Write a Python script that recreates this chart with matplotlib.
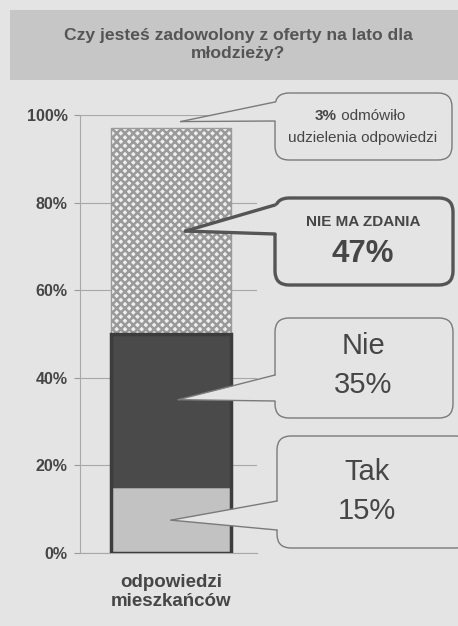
import matplotlib
matplotlib.use("Agg")
import matplotlib.pyplot as plt
from matplotlib.patches import FancyBboxPatch, Polygon, Rectangle
import numpy as np

# ---- data ----
title = "Czy jesteś zadowolony z oferty na lato dla\nmłodzieży?"
category = "odpowiedzi\nmieszkańców"
segments = ["Tak", "Nie", "Nie ma zdania"]
values = [15, 35, 47]
refused = 3
yticks = [0, 20, 40, 60, 80, 100]
ytick_labels = ["0%", "20%", "40%", "60%", "80%", "100%"]

plt.rcParams['font.family'] = ['Liberation Sans', 'DejaVu Sans']
plt.rcParams['hatch.linewidth'] = 1.8

BG = "#e4e4e4"
TXT = "#464646"
fig = plt.figure(figsize=(4.58, 6.26), dpi=100, facecolor=BG)

W, H = 458, 626
def fr(x0, y0, x1, y1):
    return [x0 / W, 1 - y1 / H, (x1 - x0) / W, (y1 - y0) / H]

ax = fig.add_axes(fr(80, 115, 257, 553))
ax.set_facecolor(BG)
ax.set_xlim(-0.758, 0.717)
ax.set_ylim(0, 100)

colors = ["#c2c2c2", "#4a4a4a", "#efefef"]
hatches = [None, None, "xxxx"]
edges = ["#8a8a8a", "#4a4a4a", "#9a9a9a"]
bottom = 0
for v, c, h, e in zip(values, colors, hatches, edges):
    ax.bar(0, v, width=1.0, bottom=bottom, color=c, hatch=h, edgecolor=e,
           linewidth=1.0, zorder=3)
    bottom += v
# dark outline for lower part of bar
ax.add_patch(Rectangle((-0.5, 0), 1.0, values[0] + values[1], fill=False,
                       edgecolor="#3c3c3c", linewidth=2.5, zorder=4))

ax.set_yticks(yticks)
ax.set_yticklabels(ytick_labels, fontsize=11.5, fontweight="bold", color=TXT)
ax.set_xticks([0])
ax.set_xticklabels([category], fontsize=13.5, fontweight="bold", color=TXT,
                   linespacing=1.15)
ax.tick_params(axis="x", length=0, pad=15)
ax.tick_params(axis="y", length=4, width=0.8, color="#9a9a9a", pad=5)
ax.grid(axis="y", color="#a8a8a8", linewidth=0.8, zorder=0)
for s in ["top", "right"]:
    ax.spines[s].set_visible(False)
ax.spines["left"].set_color("#a8a8a8")
ax.spines["bottom"].set_color("#a8a8a8")
ax.spines["left"].set_linewidth(0.8)
ax.spines["bottom"].set_linewidth(0.8)

# ---- overlay in pixel coordinates ----
ov = fig.add_axes([0, 0, 1, 1], zorder=5)
ov.set_xlim(0, W)
ov.set_ylim(H, 0)
ov.axis("off")
ov.patch.set_alpha(0)

# title band
ov.add_patch(Rectangle((10, 10), 448, 70, facecolor="#c6c6c6", edgecolor="none"))
ov.text(238, 44.5, title, ha="center", va="center", fontsize=12.6,
        fontweight="bold", color="#555555", linespacing=1.3)

fig.canvas.draw()
def data_to_px(x, y):
    return ov.transData.inverted().transform(ax.transData.transform((x, y)))

def callout(x0, y0, x1, y1, b0, b1, tip, ec="#7a7a7a", lw=1.0):
    box = FancyBboxPatch((x0, y0), x1 - x0, y1 - y0,
                         boxstyle="round,pad=0,rounding_size=14",
                         facecolor=BG, edgecolor=ec, linewidth=lw, zorder=2)
    ov.add_patch(box)
    ov.add_patch(Polygon([tip, (x0 + 3, b0), (x0 + 3, b1)], closed=True,
                         facecolor=BG, edgecolor="none", zorder=3))
    ov.plot([tip[0], x0], [tip[1], b0], color=ec, lw=lw, zorder=4,
            solid_capstyle="round")
    ov.plot([tip[0], x0], [tip[1], b1], color=ec, lw=lw, zorder=4,
            solid_capstyle="round")

cum = np.cumsum([0] + values)
mids = [(cum[i] + cum[i + 1]) / 2 for i in range(len(values))]
top_mid = cum[-1] + refused / 2

# refused callout
t = data_to_px(0.08, top_mid)
callout(275, 93, 452, 160, 102, 121, (t[0], t[1]))
t1 = ov.text(315, 116, f"{refused}%", ha="left", va="center", fontsize=11,
             fontweight="bold", color=TXT)
ov.annotate(" odmówiło", xy=(1, 0.5), xycoords=t1, ha="left", va="center",
            fontsize=11, color=TXT)
ov.text(363, 138, "udzielenia odpowiedzi", ha="center", va="center",
        fontsize=11, color=TXT)

# nie ma zdania
t = data_to_px(0.12, mids[2])
callout(275, 198, 453, 285, 205, 234, (t[0], t[1]), ec="#555555", lw=2.4)
ov.text(363, 222, "NIE MA ZDANIA", ha="center", va="center", fontsize=11,
        fontweight="bold", color=TXT)
ov.text(363, 254, f"{values[2]}%", ha="center", va="center", fontsize=22.5,
        fontweight="bold", color=TXT)

# nie
t = data_to_px(0.06, mids[1] + 2.5)
callout(275, 318, 453, 418, 375, 401, (t[0], t[1]))
ov.text(363, 346, "Nie", ha="center", va="center", fontsize=21, color=TXT)
ov.text(363, 385, f"{values[1]}%", ha="center", va="center", fontsize=21,
        color=TXT)

# tak
t = data_to_px(0.0, mids[0])
callout(277, 436, 470, 548, 501, 530, (t[0], t[1]))
ov.text(367, 472, "Tak", ha="center", va="center", fontsize=21, color=TXT)
ov.text(367, 511, f"{values[0]}%", ha="center", va="center", fontsize=21,
        color=TXT)

fig.savefig("out.png", dpi=100, facecolor=BG)
